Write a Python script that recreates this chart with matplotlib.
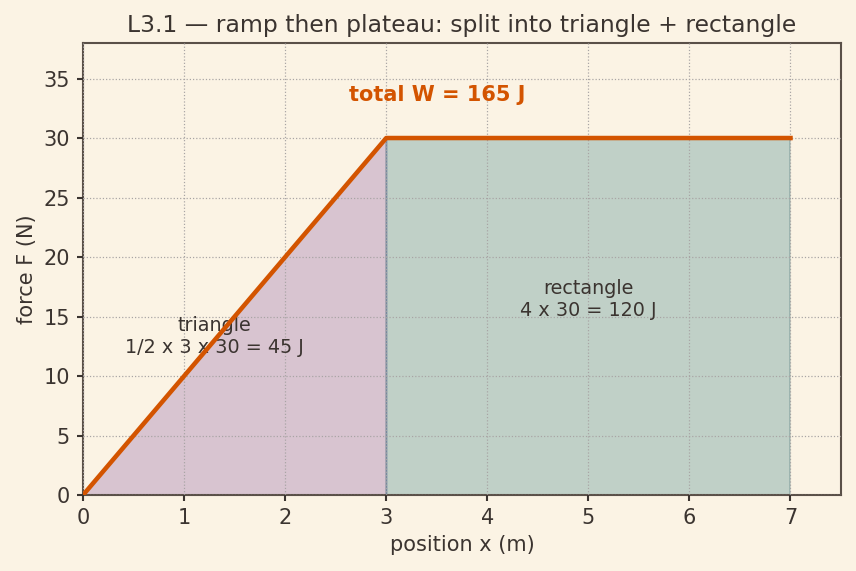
import numpy as np
import matplotlib.pyplot as plt

# ---------- data ----------
x_ramp = [0, 3]
f_ramp = [0, 30]
x_flat = [3, 7]
f_flat = [30, 30]
x_path = [0, 3, 7]
f_path = [0, 30, 30]
tri_label = "triangle\n1/2 x 3 x 30 = 45 J"
rect_label = "rectangle\n4 x 30 = 120 J"
total_label = "total W = 165 J"

bg = '#fbf3e4'
txt = '#3b3430'

fig, ax = plt.subplots(figsize=(6.848, 4.568), dpi=125)
fig.patch.set_facecolor(bg)
ax.set_facecolor(bg)

# ---------- areas ----------
ax.fill_between(x_ramp, f_ramp, facecolor='#8a5aa5', alpha=0.3,
                edgecolor='#3a2a90', lw=1)
ax.fill_between(x_flat, f_flat, facecolor='#3a8287', alpha=0.3,
                edgecolor='#3a6a70', lw=1)
ax.plot(x_path, f_path, color='#d35400', lw=2.6, zorder=4)

# ---------- annotations ----------
ax.text(1.3, 13.3, tri_label, ha='center', va='center', fontsize=11, color=txt)
ax.text(5.0, 16.4, rect_label, ha='center', va='center', fontsize=11, color=txt)
ax.text(3.5, 33.6, total_label, ha='center', va='center', fontsize=12,
        color='#d35400', fontweight='bold')

# ---------- axes ----------
ax.set_xlim(0, 7.5)
ax.set_ylim(0, 38)
ax.set_xticks(range(0, 8))
ax.set_yticks(range(0, 36, 5))
ax.grid(True, ls=':', color='#a8a4a4', lw=0.7)
ax.set_axisbelow(False)
ax.set_xlabel('position x (m)', fontsize=12, color=txt)
ax.set_ylabel('force F (N)', fontsize=12, color=txt)
ax.set_title('L3.1 \u2014 ramp then plateau: split into triangle + rectangle',
             fontsize=13.5, color=txt)
ax.tick_params(colors=txt, labelsize=12, width=1.2, pad=4)
for s in ax.spines.values():
    s.set_color('#5a5048')
    s.set_linewidth(1.2)

fig.subplots_adjust(left=0.097, right=0.9825, top=0.925, bottom=0.133)
fig.savefig('out.png', dpi=125, facecolor=bg)
